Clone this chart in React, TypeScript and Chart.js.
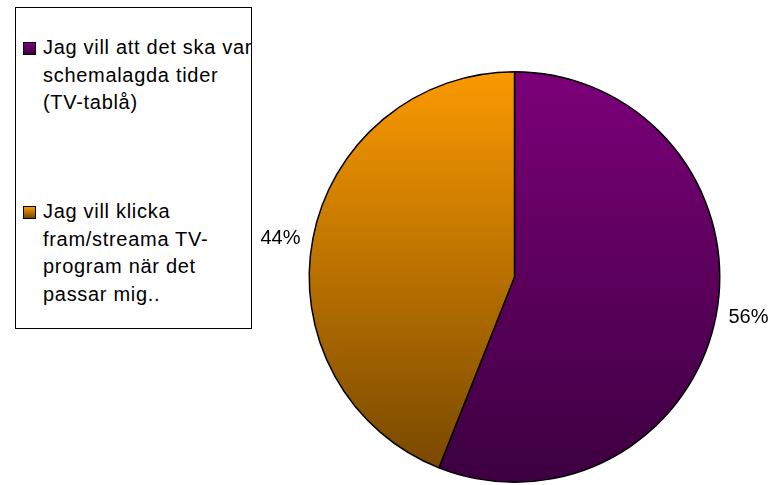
import React, { useEffect, useRef } from "react";
import { Chart, registerables } from "chart.js";

Chart.register(...registerables);

const categories: string[][] = [
  ["Jag vill att det ska var", "schemalagda tider", "(TV-tablå)"],
  ["Jag vill klicka", "fram/streama TV-", "program när det", "passar mig.."],
];
const values: number[] = [56, 44];
const topColors: string[] = ["#7C0079", "#FB9A00"];
const bottomColors: string[] = ["#3C0040", "#744600"];

const labelPlugin = {
  id: "outsideLabels",
  afterDatasetsDraw(chart: any) {
    const ctx = chart.ctx;
    const meta = chart.getDatasetMeta(0);
    const total = values.reduce((a, b) => a + b, 0);
    ctx.save();
    ctx.font = "20px 'Liberation Sans', Arial, sans-serif";
    ctx.fillStyle = "#000";
    ctx.textAlign = "center";
    ctx.textBaseline = "middle";
    meta.data.forEach((arc: any, i: number) => {
      const { x, y, startAngle, endAngle, outerRadius } = arc.getProps(
        ["x", "y", "startAngle", "endAngle", "outerRadius"],
        true
      );
      const mid = (startAngle + endAngle) / 2 - 0.023;
      const d = outerRadius + 32;
      const pct = Math.round((values[i] / total) * 100) + "%";
      ctx.fillText(pct, x + Math.cos(mid) * d, y + Math.sin(mid) * d + 1);
    });
    ctx.restore();
  },
};

export default function App() {
  const ref = useRef<HTMLCanvasElement>(null);
  useEffect(() => {
    if (!ref.current) return;
    const chart = new Chart(ref.current, {
      type: "pie",
      data: {
        labels: categories.map((l) => l.join(" ")),
        datasets: [
          {
            data: values,
            backgroundColor: (c: any) => {
              const area = c.chart.chartArea;
              if (!area) return topColors[c.dataIndex];
              const g = c.chart.ctx.createLinearGradient(0, area.top, 0, area.bottom);
              g.addColorStop(0, topColors[c.dataIndex]);
              g.addColorStop(1, bottomColors[c.dataIndex]);
              return g;
            },
            borderColor: "#000",
            borderWidth: 1.5,
            hoverOffset: 0,
          },
        ],
      },
      options: {
        animation: false,
        responsive: false,
        maintainAspectRatio: false,
        layout: { padding: { left: 308, right: 54, top: 71, bottom: 2 } },
        plugins: { legend: { display: false }, tooltip: { enabled: false } },
      },
      plugins: [labelPlugin],
    });
    return () => chart.destroy();
  }, []);

  const font = "'Liberation Sans', Arial, sans-serif";
  const itemTops = [34, 198];
  const markerTops = [42, 206];

  return (
    <div style={{ position: "fixed", left: 0, top: 0, width: 775, height: 485, background: "#fff" }}>
      <canvas ref={ref} width={775} height={485} style={{ position: "absolute", left: 0, top: 0 }} />
      <div
        style={{
          position: "absolute",
          left: 15,
          top: 7,
          width: 235,
          height: 320,
          border: "1px solid #000",
          overflow: "hidden",
          background: "#fff",
        }}
      >
        {categories.map((lines, i) => (
          <React.Fragment key={i}>
            <div
              style={{
                position: "absolute",
                left: 7,
                top: markerTops[i] - 8,
                width: 11,
                height: 11,
                border: "1px solid #000",
                background: `linear-gradient(${topColors[i]}, ${bottomColors[i]})`,
              }}
            />
            <div
              style={{
                position: "absolute",
                left: 27,
                top: itemTops[i] - 8,
                fontFamily: font,
                fontSize: 20,
                letterSpacing: "0.7px",
                lineHeight: "27.7px",
                whiteSpace: "nowrap",
                color: "#000",
              }}
            >
              {lines.map((ln, j) => (
                <div key={j}>{ln}</div>
              ))}
            </div>
          </React.Fragment>
        ))}
      </div>
    </div>
  );
}
